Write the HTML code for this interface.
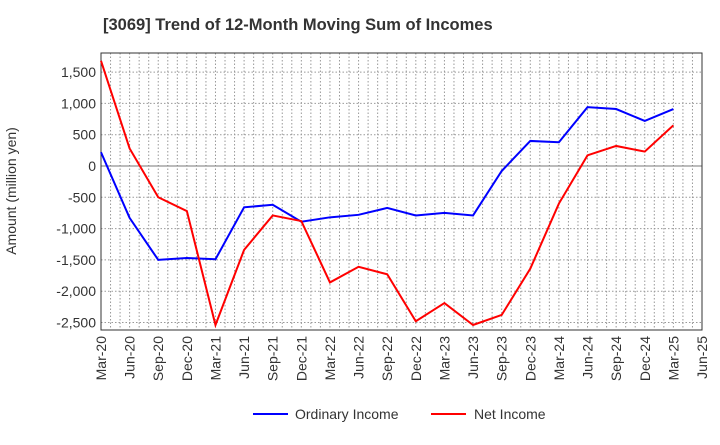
<!DOCTYPE html>
<html><head><meta charset="utf-8"><style>
body{margin:0;background:#fff;font-family:"Liberation Sans",sans-serif;}
</style></head><body>
<svg width="720" height="440" xmlns="http://www.w3.org/2000/svg" font-family="Liberation Sans, sans-serif">
<text x="103" y="30" font-size="16.5" font-weight="bold" fill="#333">[3069]  Trend of 12-Month Moving Sum of Incomes</text>
<g id="grid"></g>
<g id="axes"></g>
<g id="series"></g>
<text transform="translate(16,191) rotate(-90)" text-anchor="middle" font-size="14" fill="#333">Amount (million yen)</text>
<g>
<line x1="253" y1="414" x2="288" y2="414" stroke="#0000ff" stroke-width="2"/>
<text x="295" y="419" font-size="14" fill="#333">Ordinary Income</text>
<line x1="431" y1="414" x2="466" y2="414" stroke="#ff0000" stroke-width="2"/>
<text x="474" y="419" font-size="14" fill="#333">Net Income</text>
</g>
</svg>
<script>
const categories=["Mar-20","Jun-20","Sep-20","Dec-20","Mar-21","Jun-21","Sep-21","Dec-21","Mar-22","Jun-22","Sep-22","Dec-22","Mar-23","Jun-23","Sep-23","Dec-23","Mar-24","Jun-24","Sep-24","Dec-24","Mar-25","Jun-25"];
const ordinaryIncome=[220,-830,-1500,-1470,-1490,-660,-620,-890,-820,-780,-670,-790,-750,-790,-80,400,380,940,910,720,910];
const netIncome=[1680,280,-500,-720,-2540,-1340,-790,-880,-1860,-1610,-1730,-2480,-2190,-2540,-2380,-1640,-600,170,320,230,650];
const yTicks=[1500,1000,500,0,-500,-1000,-1500,-2000,-2500];
const L=101,R=702,T=53,B=330,yMax=1805,yMin=-2620;
const NS="http://www.w3.org/2000/svg";
function x(i){return L+(R-L)*i/(categories.length-1);}
function y(v){return T+(yMax-v)/(yMax-yMin)*(B-T);}
function mk(t,a,p){const e=document.createElementNS(NS,t);for(const k in a)e.setAttribute(k,a[k]);p.appendChild(e);return e;}
const g=document.getElementById('grid'),ax=document.getElementById('axes'),s=document.getElementById('series');
const months=(categories.length-1)*3;
for(let m=1;m<months;m++){const xx=L+(R-L)*m/months;
const l=mk('line',{x1:xx,x2:xx,y1:T,y2:B,stroke:'#999','stroke-dasharray':'1.5,2','stroke-width':1},g);

}
yTicks.forEach(v=>{const l=mk('line',{x1:L,x2:R,y1:y(v),y2:y(v),stroke:v===0?'#777':'#999','stroke-dasharray':v===0?'none':'1.5,2','stroke-width':1},g);


const t=mk('text',{x:L-5,y:y(v)+5,'text-anchor':'end','font-size':14,fill:'#333'},ax);t.textContent=v.toLocaleString('en-US');

});
const fr=mk('rect',{x:L,y:T,width:R-L,height:B-T,fill:'none',stroke:'#333','stroke-width':1},ax);


categories.forEach((c,i)=>{const t=mk('text',{transform:`translate(${x(i)+5},${B+6}) rotate(-90)`,'text-anchor':'end','font-size':14,fill:'#333'},ax);t.textContent=c;

});
function line(d,c,n){const p=mk('polyline',{points:d.map((v,i)=>x(i)+','+y(v)).join(' '),fill:'none',stroke:c,'stroke-width':2},s);

}
line(ordinaryIncome,'#0000ff','ordinary-income-line');
line(netIncome,'#ff0000','net-income-line');
</script>
</body></html>
